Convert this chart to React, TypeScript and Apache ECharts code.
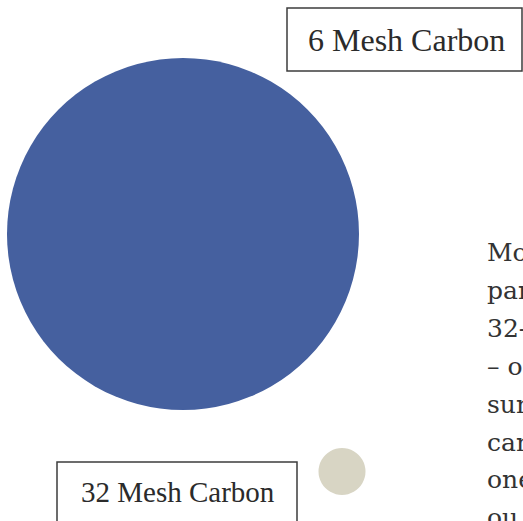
import React, { useEffect, useRef } from "react";
import * as echarts from "echarts";

// Particle labels and their drawn diameters (px) and positions in a page-like coordinate space
const labels = ["6 Mesh Carbon", "32 Mesh Carbon"];
const centersX = [183, 342];
const centersY = [234, 471.5];
const diameters = [352, 47];
const colors = ["#45609f", "#d8d5c4"];
const bodyLines = ["Mo", "par", "32-", "– o", "sur", "car", "one", "ou"];

export default function App() {
  const ref = useRef<HTMLDivElement>(null);
  useEffect(() => {
    const chart = echarts.init(ref.current!, null, { renderer: "svg" });
    chart.setOption({
      animation: false,
      backgroundColor: "#ffffff",
      grid: { left: 0, right: 0, top: 0, bottom: 0 },
      xAxis: { type: "value", min: 0, max: 523, show: false },
      yAxis: { type: "value", min: 0, max: 521, inverse: true, show: false },
      series: [
        {
          type: "scatter",
          symbol: "circle",
          data: labels.map((name, i) => ({
            name,
            value: [centersX[i], centersY[i]],
            symbolSize: diameters[i],
            itemStyle: { color: colors[i], opacity: 1 },
          })),
          itemStyle: { opacity: 1 },
          silent: true,
        },
      ],
      graphic: [
        {
          type: "rect",
          shape: { x: 287, y: 8, width: 235, height: 63 },
          style: { fill: "#ffffff", stroke: "#3d3d3d", lineWidth: 1.5 },
        },
        {
          type: "text",
          x: 308,
          y: 24,
          style: {
            text: labels[0],
            font: "32px 'Liberation Serif'",
            fill: "#2b2b2b",
          },
        },
        {
          type: "rect",
          shape: { x: 57, y: 462, width: 240, height: 75 },
          style: { fill: "#ffffff", stroke: "#3d3d3d", lineWidth: 1.5 },
        },
        {
          type: "text",
          x: 81,
          y: 477,
          style: {
            text: labels[1],
            font: "29px 'Liberation Serif'",
            fill: "#2b2b2b",
          },
        },
        ...bodyLines.map((t, i) => ({
          type: "text",
          x: 487,
          y: 240 + i * 37.9,
          style: {
            text: t,
            font: "25px 'DejaVu Serif'",
            fill: "#333333",
          },
        })),
      ],
    });
    return () => chart.dispose();
  }, []);
  return (
    <div
      ref={ref}
      style={{ position: "absolute", left: 0, top: 0, width: 523, height: 521 }}
    />
  );
}
